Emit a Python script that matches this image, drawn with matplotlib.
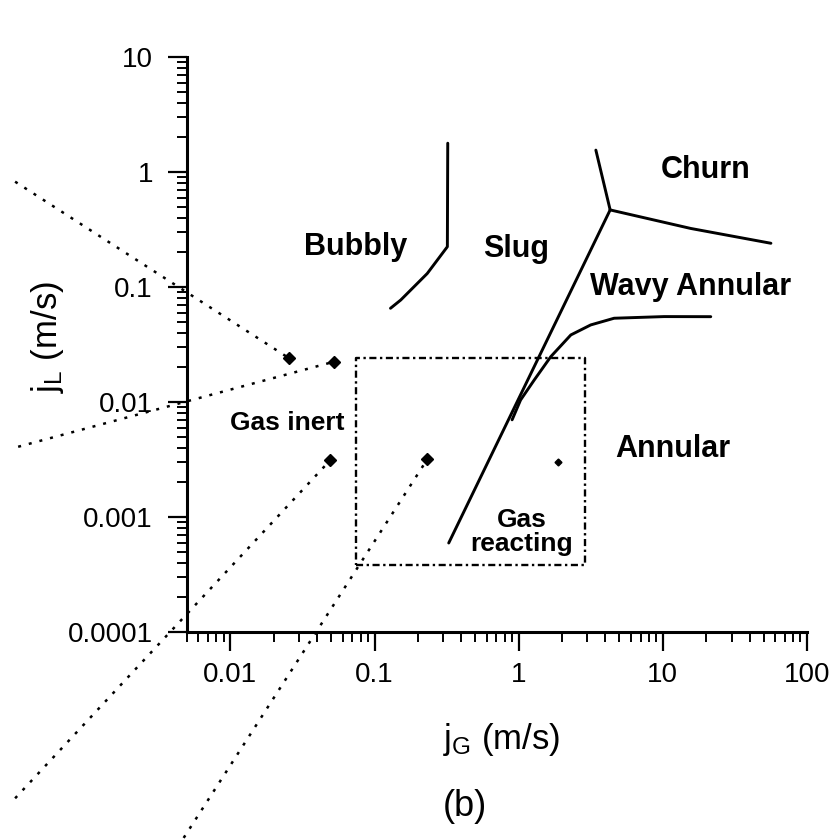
import numpy as np
import matplotlib.pyplot as plt
from matplotlib.ticker import FixedLocator, FixedFormatter, LogLocator, NullFormatter

plt.rcParams['font.family'] = ['Liberation Sans', 'DejaVu Sans']
plt.rcParams['mathtext.fontset'] = 'custom'
plt.rcParams['mathtext.rm'] = 'Liberation Sans'

# regime boundaries (jG, jL in m/s)
bubbly_slug_jg = [0.322, 0.320, 0.232, 0.152, 0.129]
bubbly_slug_jl = [1.78, 0.224, 0.131, 0.0771, 0.0653]

churn_jg = [3.43, 4.31]
churn_jl = [1.55, 0.468]

churn_wavy_jg = [4.31, 15.6, 56.2]
churn_wavy_jl = [0.468, 0.323, 0.240]

slug_annular_jg = [4.31, 0.327]
slug_annular_jl = [0.468, 0.000594]

wavy_annular_jg = [21.5, 10.2, 4.59, 3.16, 2.30, 1.67, 1.28, 1.03, 0.90]
wavy_annular_jl = [0.0552, 0.0553, 0.0535, 0.0468, 0.0383, 0.0248, 0.0155, 0.0104, 0.0070]

# operating window of the gas-reacting runs
box_jg = [0.0738, 2.90]
box_jl = [0.000383, 0.0242]

# operating points and the guide lines leading to them
points_jg = [0.0253, 0.0523, 0.0494, 0.232]
points_jl = [0.0242, 0.0224, 0.00313, 0.00317]
guide_start_jg = [0.000321, 0.000337, 0.000321, 0.00474]
guide_start_jl = [0.824, 0.00408, 3.58e-6, 1.62e-6]
extra_point_jg = 1.86
extra_point_jl = 0.00303

x_ticks = [0.01, 0.1, 1, 10, 100]
x_ticklabels = ['0.01', '0.1', '1', '10', '100']
y_ticks = [0.0001, 0.001, 0.01, 0.1, 1, 10]
y_ticklabels = ['0.0001', '0.001', '0.01', '0.1', '1', '10']

regime_labels = ['Bubbly', 'Slug', 'Churn', 'Wavy Annular', 'Annular']
regime_label_jg = [0.0738, 0.953, 19.9, 15.6, 11.8]
regime_label_jl = [0.190, 0.184, 0.881, 0.0851, 0.00335]

fig = plt.figure(figsize=(8.33, 8.4), dpi=100)
ax = fig.add_axes([187 / 833, 1 - 632 / 840, 620 / 833, 575 / 840])
ax.set_xscale('log')
ax.set_yscale('log')
ax.set_xlim(0.005, 100)
ax.set_ylim(0.0001, 10)

solid = dict(color='black', lw=2.1, solid_capstyle='round')
ax.plot(bubbly_slug_jg, bubbly_slug_jl, **solid)
ax.plot(churn_jg, churn_jl, **solid)
ax.plot(churn_wavy_jg, churn_wavy_jl, **solid)
ax.plot(slug_annular_jg, slug_annular_jl, **solid)
ax.plot(wavy_annular_jg, wavy_annular_jl, **solid)

# dash-dot window
bx = [box_jg[0], box_jg[1], box_jg[1], box_jg[0], box_jg[0]]
by = [box_jl[0], box_jl[0], box_jl[1], box_jl[1], box_jl[0]]
ax.plot(bx, by, color='black', lw=1.7, dashes=(3, 1.5, 1, 1.5))

for x0, y0, x1, y1 in zip(guide_start_jg, guide_start_jl, points_jg, points_jl):
    ax.plot([x0, x1], [y0, y1], color='black', lw=1.8, dashes=(1.2, 3.2),
            clip_on=False)
ax.plot(points_jg, points_jl, 'D', color='black', ms=6.5, clip_on=False)
ax.plot([extra_point_jg], [extra_point_jl], 'D', color='black', ms=3.5)

for txt, x, y in zip(regime_labels, regime_label_jg, regime_label_jl):
    ax.text(x, y, txt, fontsize=22, fontweight='bold', ha='center', va='baseline')
ax.text(0.0247, 0.00571, 'Gas inert', fontsize=19, fontweight='bold',
        ha='center', va='baseline')
ax.text(1.05, 0.00074, 'Gas\nreacting', fontsize=19, fontweight='bold',
        ha='center', va='center', linespacing=1.0)

# axes styling
for side in ['top', 'right']:
    ax.spines[side].set_visible(False)
for side in ['left', 'bottom']:
    ax.spines[side].set_linewidth(2.2)

ax.xaxis.set_major_locator(FixedLocator(x_ticks))
ax.xaxis.set_major_formatter(FixedFormatter(x_ticklabels))
ax.yaxis.set_major_locator(FixedLocator(y_ticks))
ax.yaxis.set_major_formatter(FixedFormatter(y_ticklabels))
ax.xaxis.set_minor_locator(LogLocator(base=10, subs=np.arange(2, 10)))
ax.yaxis.set_minor_locator(LogLocator(base=10, subs=np.arange(2, 10)))
ax.xaxis.set_minor_formatter(NullFormatter())
ax.yaxis.set_minor_formatter(NullFormatter())
ax.tick_params(which='major', direction='out', length=13.5, width=1.6,
               labelsize=20)
ax.tick_params(which='minor', direction='out', length=7, width=1.4)
ax.tick_params(axis='x', which='major', pad=8)
ax.tick_params(axis='y', which='major', pad=11)

ax.set_xlabel(r'$\mathregular{j_G}$ (m/s)', fontsize=25, va='center')
ax.xaxis.set_label_coords((502 - 187) / 620, (632 - 740) / 575)
ax.set_ylabel(r'$\mathregular{j_L}$ (m/s)', fontsize=25, va='center')
ax.yaxis.set_label_coords((48 - 187) / 620, (632 - 337) / 575)

fig.text(464.5 / 833, 1 - 806.5 / 840, '(b)', fontsize=26, ha='center', va='center')

fig.savefig('out.png', dpi=100)
